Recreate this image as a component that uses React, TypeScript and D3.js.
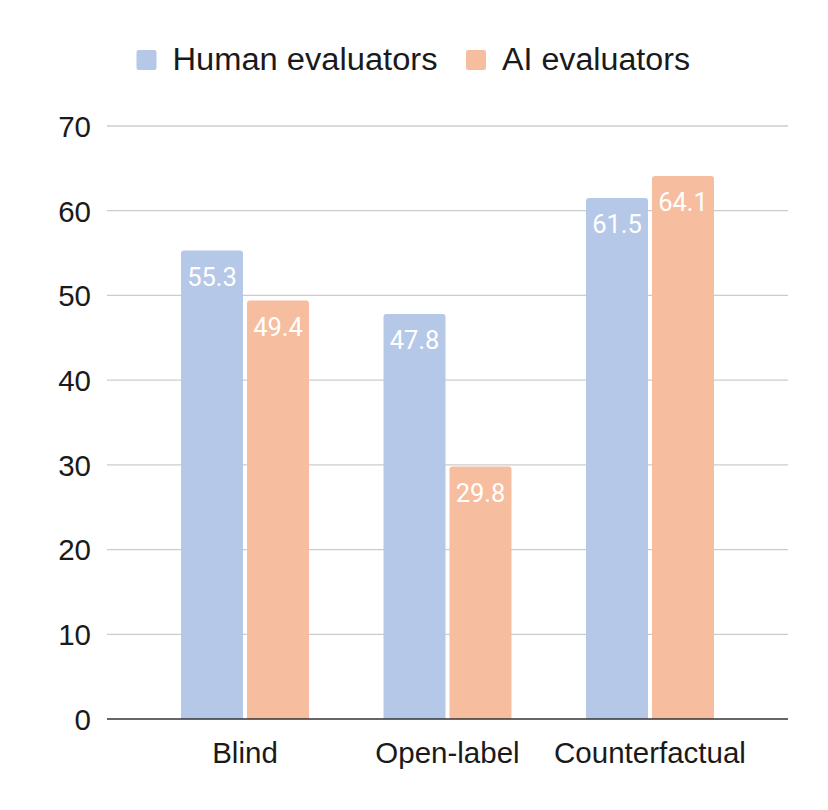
import React from "react"
import * as d3 from "d3"

const categories = ["Blind", "Open-label", "Counterfactual"]
const seriesNames = ["Human evaluators", "AI evaluators"]
const humanValues = [55.3, 47.8, 61.5]
const aiValues = [49.4, 29.8, 64.1]
const yTicks = [0, 10, 20, 30, 40, 50, 60, 70]

const colors = ["#b6c8e7", "#f7bd9f"]
const W = 828
const H = 810

// bar with rounded top corners only
function topRoundedBar(x: number, y: number, w: number, h: number, r: number) {
    const rr = Math.min(r, h, w / 2)
    return `M${x},${y + h}V${y + rr}Q${x},${y} ${x + rr},${y}H${x + w - rr}Q${x + w},${y} ${x + w},${y + rr}V${y + h}Z`
}

export default function App() {
    const series = [humanValues, aiValues]

    const y = d3.scaleLinear().domain([0, 70]).range([719, 126])

    const x0 = d3.scaleBand<string>()
        .domain(categories)
        .range([143.75, 751.25])
        .paddingInner(0.368)
        .paddingOuter(0.184)

    const x1 = d3.scaleBand<string>()
        .domain(seriesNames)
        .range([0, x0.bandwidth()])
        .paddingInner(0.0606)

    const gridX0 = 107
    const gridX1 = 788
    const axisFont = "Liberation Sans, Arial, sans-serif"

    // legend layout
    const legendItems = [
        { name: seriesNames[0], sq: 136.5, tx: 172.5, len: 265 },
        { name: seriesNames[1], sq: 466, tx: 502, len: 188 },
    ]

    return (
        <svg width={W} height={H} style={{ position: "absolute", left: 0, top: 0, background: "#fff" }}>
            {/* legend */}
            <g fontFamily={axisFont} fontSize={31} fill="#1a1a1a">
                {legendItems.map((d, i) => (
                    <g key={d.name}>
                        <rect x={d.sq} y={50} width={20} height={20} rx={2} fill={colors[i]} />
                        <text x={d.tx} y={70} textLength={d.len} lengthAdjust="spacingAndGlyphs">{d.name}</text>
                    </g>
                ))}
            </g>

            {/* gridlines + y labels */}
            <g>
                {yTicks.filter(t => t !== 0).map(t => (
                    <line key={t} x1={gridX0} x2={gridX1} y1={y(t)} y2={y(t)} stroke="#cccccc" strokeWidth={1.3} />
                ))}
                {yTicks.map(t => (
                    <text key={"l" + t} x={91} y={y(t) + 10.8} textAnchor="end"
                        fontFamily={axisFont} fontSize={29.5} fill="#1a1a1a">{t}</text>
                ))}
            </g>

            {/* bars */}
            {categories.map((c, ci) => (
                <g key={c} transform={`translate(${x0(c)},0)`}>
                    {seriesNames.map((s, si) => {
                        const v = series[si][ci]
                        const bx = x1(s) as number
                        const by = y(v)
                        const bw = x1.bandwidth()
                        return (
                            <g key={s}>
                                <path d={topRoundedBar(bx, by, bw, y(0) - by, 3)} fill={colors[si]} />
                                <text x={bx + bw / 2} y={by + 35} textAnchor="middle"
                                    fontFamily="Roboto, sans-serif" fontSize={25.5} fill="#ffffff">{v.toFixed(1)}</text>
                            </g>
                        )
                    })}
                </g>
            ))}

            {/* baseline */}
            <line x1={gridX0} x2={gridX1} y1={y(0)} y2={y(0)} stroke="#333333" strokeWidth={1.5} />

            {/* x labels */}
            {categories.map(c => (
                <text key={"x" + c} x={(x0(c) as number) + x0.bandwidth() / 2} y={762.5} textAnchor="middle"
                    fontFamily={axisFont} fontSize={29.5} fill="#1a1a1a">{c}</text>
            ))}
        </svg>
    )
}
